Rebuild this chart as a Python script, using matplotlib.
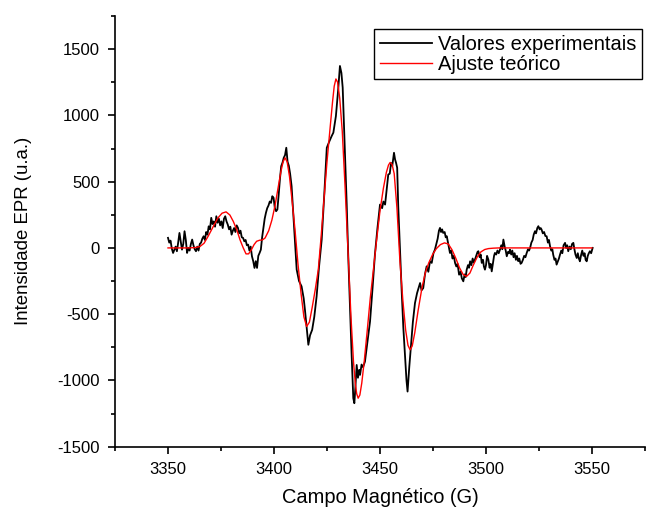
import matplotlib
matplotlib.use('Agg')
import matplotlib.pyplot as plt
from matplotlib.ticker import MultipleLocator

plt.rcParams['font.family'] = ['Liberation Sans', 'DejaVu Sans']
plt.rcParams['axes.unicode_minus'] = False

campo_exp = [3350.0, 3350.6, 3351.2, 3351.8, 3352.4, 3353.0, 3353.6, 3354.2, 3354.8, 3355.4,
             3356.0, 3356.6, 3357.2, 3357.8, 3358.4, 3359.0, 3359.6, 3360.2, 3360.8, 3361.4,
             3362.0, 3362.6, 3363.2, 3363.8, 3364.4, 3365.0, 3365.6, 3366.2, 3366.8, 3367.4,
             3368.0, 3368.6, 3369.2, 3369.8, 3370.4, 3371.0, 3371.6, 3372.2, 3372.8, 3373.4,
             3374.0, 3374.6, 3375.2, 3375.8, 3376.4, 3377.0, 3377.6, 3378.2, 3378.8, 3379.4,
             3380.0, 3380.6, 3381.2, 3381.8, 3382.4, 3383.0, 3383.6, 3384.2, 3384.8, 3385.4,
             3386.0, 3386.6, 3387.2, 3387.8, 3388.4, 3389.0, 3389.6, 3390.2, 3390.8, 3391.4,
             3392.0, 3392.6, 3393.2, 3393.8, 3394.4, 3395.0, 3395.6, 3396.2, 3396.8, 3397.4,
             3398.0, 3398.6, 3399.2, 3399.8, 3400.4, 3401.0, 3401.6, 3402.2, 3402.8, 3403.4,
             3404.0, 3404.6, 3405.2, 3405.8, 3406.4, 3407.0, 3407.6, 3408.3, 3409.5, 3410.7,
             3411.8, 3413.0, 3414.0, 3414.6, 3415.4, 3416.2, 3417.0, 3418.0, 3419.0, 3420.1,
             3421.2, 3422.5, 3423.7, 3424.9, 3426.0, 3427.2, 3428.0, 3429.2, 3430.3, 3431.1,
             3431.8, 3432.4, 3433.3, 3434.3, 3435.0, 3435.8, 3436.6, 3437.4, 3437.9, 3438.4,
             3439.0, 3439.6, 3440.2, 3440.6, 3441.3, 3442.0, 3442.9, 3444.0, 3445.3, 3446.5,
             3447.6, 3448.8, 3450.0, 3451.0, 3451.6, 3452.4, 3453.2, 3453.9, 3454.6, 3455.2,
             3455.8, 3456.6, 3457.1, 3457.6, 3458.1, 3458.6, 3459.4, 3460.2, 3461.0, 3461.8,
             3462.5, 3463.0, 3463.8, 3464.6, 3465.5, 3466.5, 3467.5, 3468.9, 3469.6, 3470.4,
             3471.2, 3472.0, 3472.8, 3473.6, 3474.4, 3475.2, 3475.9, 3476.6, 3477.2, 3477.8,
             3478.3, 3478.8, 3479.3, 3479.8, 3480.5, 3481.0, 3481.5, 3482.2, 3483.0, 3483.6,
             3484.2, 3484.8, 3485.4, 3486.0, 3486.6, 3487.3, 3488.0, 3488.6, 3489.3, 3489.9,
             3490.4, 3490.9, 3491.5, 3492.0, 3492.5, 3493.1, 3493.7, 3494.2, 3494.8, 3495.4,
             3496.0, 3496.4, 3497.0, 3497.5, 3498.0, 3498.6, 3499.0, 3499.5, 3500.0, 3500.5,
             3501.1, 3501.7, 3502.2, 3502.7, 3503.3, 3503.8, 3504.2, 3504.8, 3505.4, 3506.0,
             3506.6, 3507.2, 3507.7, 3508.2, 3508.8, 3509.3, 3509.8, 3510.4, 3510.9, 3511.3,
             3511.9, 3512.4, 3513.0, 3513.5, 3514.1, 3514.6, 3515.2, 3515.7, 3516.3, 3516.8,
             3517.4, 3518.0, 3518.6, 3519.2, 3519.8, 3520.3, 3520.8, 3521.4, 3522.0, 3522.5,
             3523.1, 3523.6, 3524.2, 3524.7, 3525.3, 3525.8, 3526.2, 3526.8, 3527.4, 3528.0,
             3528.6, 3529.2, 3529.7, 3530.2, 3530.8, 3531.3, 3531.7, 3532.3, 3532.8, 3533.3,
             3533.9, 3534.4, 3534.9, 3535.5, 3536.0, 3536.6, 3537.3, 3537.8, 3538.3, 3538.8,
             3539.4, 3540.0, 3540.6, 3541.2, 3541.7, 3542.2, 3542.8, 3543.3, 3543.8, 3544.3,
             3544.9, 3545.4, 3546.0, 3546.5, 3547.0, 3547.5, 3548.0, 3548.5, 3549.0, 3549.6,
             3550.3]
intens_exp = [76, 40, 55, -5, -38, -15, 10, -25, 40, 113,
              50, -13, 30, 126, 60, -38, 0, -20, 30, 63,
              20, -10, -25, 10, -20, 30, 40, 70, 88, 60,
              120, 100, 163, 140, 227, 180, 200, 160, 239, 190,
              220, 170, 200, 150, 220, 239, 200, 176, 140, 160,
              100, 130, 150, 120, 170, 151, 110, 130, 80, 76,
              50, 60, 20, 25, -20, 10, -63, -100, -151, -100,
              -151, -60, -38, -13, 80, 150, 220, 265, 300, 320,
              350, 340, 390, 378, 300, 277, 290, 400, 520, 617,
              643, 680, 700, 756, 650, 620, 560, 466, 150, -164,
              -250, -290, -380, -467, -600, -731, -660, -618, -520, -366,
              -150, 63, 400, 756, 800, 844, 870, 995, 1200, 1373,
              1320, 1210, 800, 327, -50, -429, -800, -1134, -1172, -1050,
              -883, -980, -920, -958, -880, -900, -858, -720, -555, -300,
              -51, 150, 327, 300, 350, 327, 450, 554, 560, 640,
              620, 718, 668, 640, 605, 315, 0, -315, -600, -820,
              -1000, -1084, -900, -744, -560, -416, -340, -265, -320, -303,
              -200, -139, -180, -100, -113, -40, -13, 30, 70, 130,
              151, 120, 140, 113, 120, 80, 88, 30, -38, -20,
              -80, -60, -113, -140, -120, -202, -180, -230, -252, -200,
              -220, -164, -130, -150, -101, -130, -80, -110, -88, -60,
              -30, -25, -70, -50, -113, -90, -140, -164, -130, -60,
              -88, -150, -120, -177, -110, -60, -38, -50, -20, -40,
              -13, 20, -10, 63, 10, -20, -63, -30, -40, -13,
              -50, -20, -70, -40, -90, -60, -100, -80, -120, -113,
              -90, -60, -70, -38, -10, -20, 0, 40, 60, 100,
              126, 110, 150, 164, 140, 150, 139, 110, 120, 90,
              88, 40, 60, 13, -20, -10, -51, -90, -80, -126,
              -100, -80, -51, -20, -40, 20, 38, 0, 20, -25,
              10, -10, 30, 38, -10, -50, -76, -40, -80, -101,
              -50, -20, -60, -40, -90, -101, -60, -40, -25, -40,
              0]

# theoretical fit
campo_fit = [3350, 3360, 3363, 3365, 3367, 3369, 3371.4, 3373.5, 3375.5, 3377.4,
             3379.2, 3380.8, 3382.4, 3384.0, 3385.5, 3386.8, 3388.0, 3389.3, 3390.6, 3391.8,
             3393.2, 3394.5, 3395.8, 3397.5, 3399.0, 3400.5, 3402.0, 3403.3, 3404.3, 3405.2,
             3406.2, 3407.3, 3408.5, 3409.9, 3411.3, 3412.8, 3414.1, 3415.4, 3416.7, 3418.0,
             3419.4, 3420.9, 3422.2, 3423.5, 3425.0, 3426.4, 3427.6, 3428.4, 3429.2, 3430.0,
             3431.0, 3432.2, 3433.5, 3435.0, 3436.3, 3437.5, 3438.4, 3439.0, 3439.7, 3440.5,
             3441.4, 3442.6, 3444.0, 3445.4, 3446.8, 3448.4, 3450.0, 3451.6, 3453.0, 3454.0,
             3454.8, 3455.7, 3456.7, 3458.0, 3459.4, 3460.8, 3462.1, 3463.2, 3464.2, 3465.2,
             3466.4, 3468.0, 3469.8, 3471.5, 3473.0, 3474.8, 3476.6, 3478.5, 3480.4, 3482.2,
             3484.0, 3485.8, 3487.5, 3489.2, 3490.8, 3492.4, 3494.0, 3495.8, 3497.6, 3499.4,
             3501.2, 3503.4, 3506.0, 3510.0, 3550.0]
intens_fit = [0, 0, 3, 10, 35, 90, 163, 225, 262, 272,
              248, 200, 138, 60, 0, -45, -45, -15, 25, 50,
              58, 60, 75, 130, 210, 320, 460, 580, 650, 680,
              650, 540, 360, 138, -120, -350, -520, -593, -560, -450,
              -320, -164, 80, 350, 650, 895, 1100, 1220, 1275, 1250,
              1130, 880, 470, -50, -520, -860, -1030, -1100, -1134, -1110,
              -1020, -850, -620, -380, -177, 60, 280, 450, 570, 625,
              645, 630, 560, 300, -101, -400, -620, -735, -769, -740,
              -640, -470, -300, -180, -113, -50, -5, 25, 38, 30,
              -15, -80, -150, -200, -215, -190, -130, -70, -30, -12,
              -5, -2, 0, 0, 0]

fig = plt.figure(figsize=(6.46, 5.08), dpi=100)
ax = fig.add_axes([115 / 646, 1 - 446.7 / 508, 530 / 646, (446.7 - 16) / 508])

ax.plot(campo_exp, intens_exp, color='black', linewidth=1.3, label='Valores experimentais')
ax.plot(campo_fit, intens_fit, color='red', linewidth=1.0, label='Ajuste teórico')

ax.set_xlim(3325, 3575)
ax.set_ylim(-1500, 1750)
ax.set_xticks([3350, 3400, 3450, 3500, 3550])
ax.xaxis.set_minor_locator(MultipleLocator(25))
ax.yaxis.set_major_locator(MultipleLocator(500))
ax.yaxis.set_minor_locator(MultipleLocator(250))

for s in ['top', 'right']:
    ax.spines[s].set_visible(False)
for s in ['left', 'bottom']:
    ax.spines[s].set_linewidth(1.2)

ax.tick_params(which='major', direction='out', length=5, width=1.2, labelsize=12, pad=6)
ax.tick_params(which='minor', direction='out', length=3, width=1.2)

ax.set_xlabel('Campo Magnético (G)', fontsize=14.4)
ax.set_ylabel('Intensidade EPR (u.a.)', fontsize=13.4)
ax.xaxis.set_label_coords(0.5, -0.117)
ax.yaxis.set_label_coords(-0.172, 0.5)
ax.xaxis.label.set_va('center')
ax.yaxis.label.set_va('center')

leg = ax.legend(loc='upper left', bbox_to_anchor=(374 / 646, 1 - 29 / 508),
                bbox_transform=fig.transFigure, fontsize=14.5, frameon=True,
                fancybox=False, edgecolor='black', framealpha=1,
                handlelength=2.6, handletextpad=0.3, borderpad=0.28,
                labelspacing=0.05, borderaxespad=0)
leg.get_frame().set_linewidth(1.0)

fig.savefig('out.png', dpi=100)
